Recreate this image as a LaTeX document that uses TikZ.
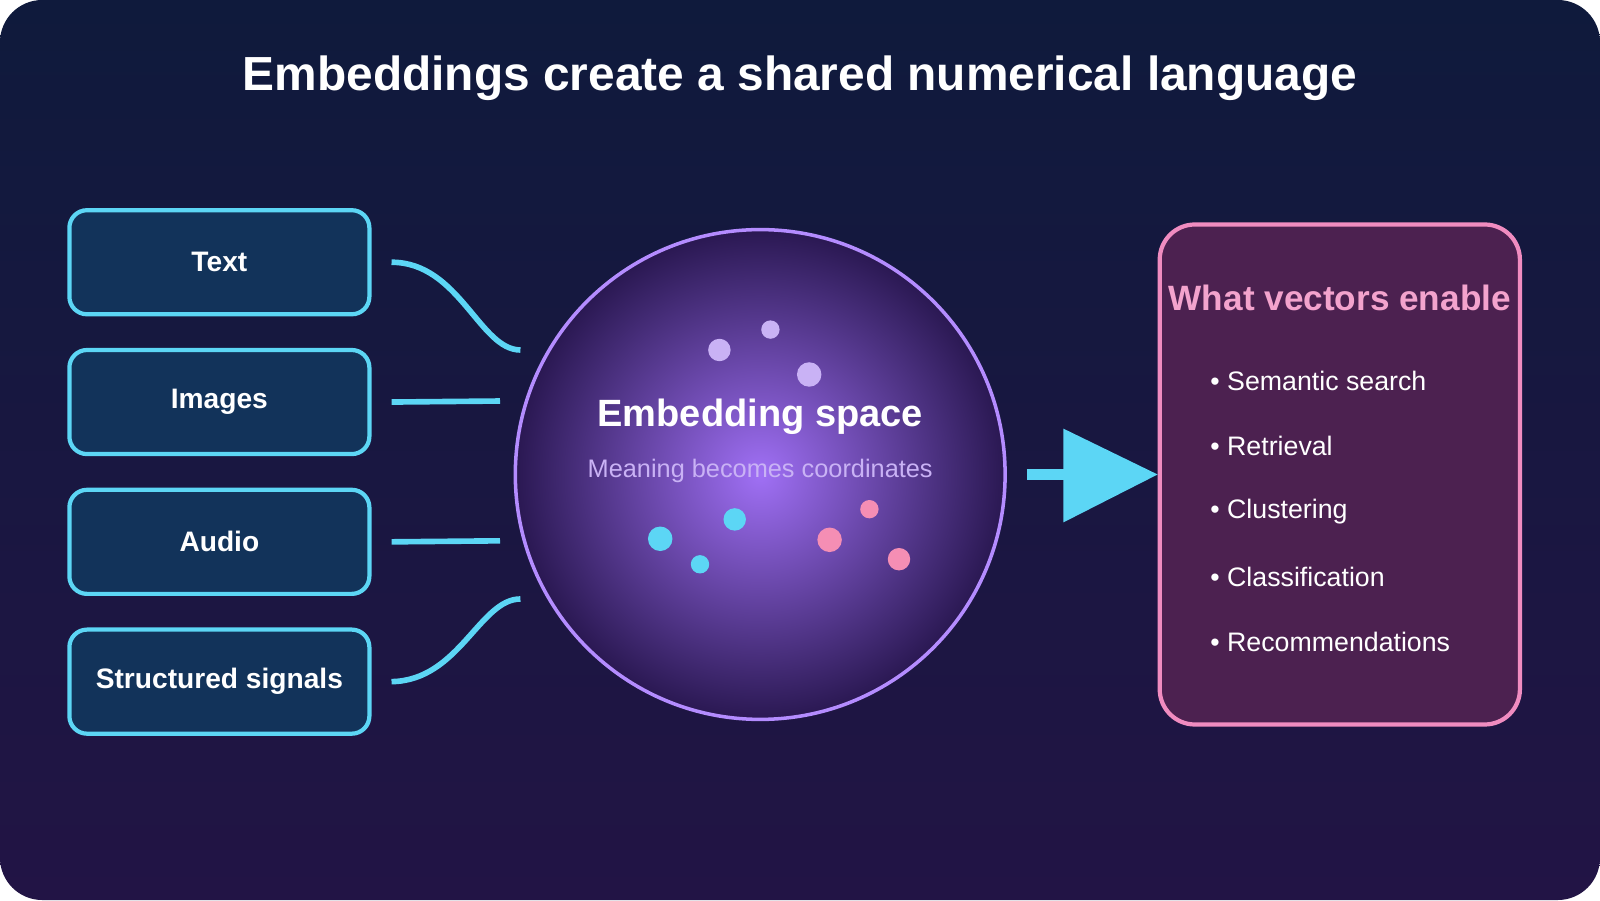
\documentclass[tikz,border=0pt]{standalone}
\usepackage{fontspec}
\setmainfont{Liberation Sans}
\usetikzlibrary{positioning}
\definecolor{bgA}{HTML}{0F1A3C}
\definecolor{bgB}{HTML}{221445}
\definecolor{boxfill}{HTML}{12335A}
\definecolor{cyanline}{HTML}{5CD6F5}
\definecolor{lav}{HTML}{C9B2F5}
\definecolor{pinkdot}{HTML}{F58EB4}
\definecolor{rfill}{HTML}{4C2150}
\definecolor{rline}{HTML}{F08CC0}
\definecolor{ring}{HTML}{B48CFF}
\definecolor{core}{HTML}{A070F5}
\definecolor{rim}{HTML}{2A1852}
\tikzset{
  src/.style={draw=cyanline, line width=1.2pt, fill=boxfill, rounded corners=5pt,
    minimum width=294*0.0102cm, minimum height=102*0.0102cm,
    text=white, font=\bfseries\fontsize{8}{10}\selectfont},
  wire/.style={cyanline, line width=1.6pt},
  item/.style={text=white, anchor=west, font=\fontsize{7.6}{9}\selectfont}
}
\begin{document}
\begin{tikzpicture}[x=0.0102cm, y=-0.0102cm]
\useasboundingbox (0,0) rectangle (1568,882);
% background
\shade[top color=bgA, bottom color=bgB, rounded corners=12pt] (0,0) rectangle (1568,882);
\node[text=white, font=\bfseries\fontsize{13.6}{16}\selectfont] (title) at (784,77) {Embeddings create a shared numerical language};

% inputs
\node[src] (text) at (215,257) {Text};
\node[src] (images) at (215,394) {Images};
\node[src] (audio) at (215,531) {Audio};
\node[src] (signals) at (215,668) {Structured signals};

% embedding space
\shade[inner color=core, outer color=rim] (745,465) circle (240);
\node[draw=ring, line width=1pt, circle, minimum size=480*0.0102cm] (space) at (745,465) {};
\node[text=white, font=\bfseries\fontsize{10.8}{13}\selectfont] (spacelbl) at (745,408) {Embedding space};
\node[text=lav, font=\fontsize{7.2}{9}\selectfont] (spacesub) at (745,462) {Meaning becomes coordinates};
\foreach \x/\y/\r in {705/343/11, 755/323/9, 793/367/12}
  \fill[lav] (\x,\y) circle (\r);
\foreach \x/\y/\r in {647/528/12, 720/509/11, 686/553/9}
  \fill[cyanline] (\x,\y) circle (\r);
\foreach \x/\y/\r in {813/529/12, 852/499/9, 881/548/11}
  \fill[pinkdot] (\x,\y) circle (\r);

% wires
\coordinate (inA) at (510,343);
\coordinate (inB) at (490,393);
\coordinate (inC) at (490,530);
\coordinate (inD) at (510,587);
\draw[wire] ([xshift=0.2cm]text.east) .. controls (450,257) and (470,343) .. (inA);
\draw[wire] ([xshift=0.2cm]images.east) -- (inB);
\draw[wire] ([xshift=0.2cm]audio.east) -- (inC);
\draw[wire] ([xshift=0.2cm]signals.east) .. controls (450,667) and (470,587) .. (inD);

% outputs
\node[draw=rline, line width=1.2pt, fill=rfill, rounded corners=10pt,
  minimum width=353*0.0102cm, minimum height=490*0.0102cm] (uses) at (1313,465) {};
\node[text=rline!80!white, font=\bfseries\fontsize{10}{12}\selectfont] (usestitle) at (1313,292) {What vectors enable};
\foreach \t [count=\i] in {Semantic search, Retrieval, Clustering, Classification, Recommendations}
  \node[item] (use\i) at (1174,309+64*\i) {\textbullet\ \t};

% arrow
\draw[cyanline, line width=3pt] ([xshift=0.2cm]space.east) -- (1045,465);
\fill[cyanline] (1042,420) -- (1042,512) -- (uses.west) -- cycle;
\end{tikzpicture}
\end{document}
